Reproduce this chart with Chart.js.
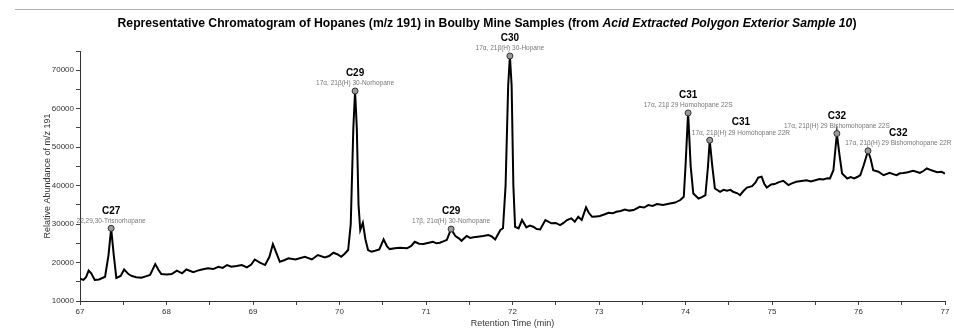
<!DOCTYPE html>
<html>
<head>
<meta charset="utf-8">
<script src="https://cdn.jsdelivr.net/npm/chart.js@4.4.1/dist/chart.umd.min.js"></script>
<style>
html,body{margin:0;padding:0;background:#fff;}
#wrap{position:relative;width:954px;height:333px;}
</style>
</head>
<body>
<div id="wrap"><canvas id="c" width="954" height="333"></canvas></div>
<script>
// Retention time (min)
const times = [
67.00,67.04,67.07,67.10,67.13,67.17,67.22,67.29,67.33,67.36,67.39,67.42,67.47,67.51,67.56,67.60,67.65,67.71,67.76,67.81,
67.87,67.91,67.94,68.00,68.06,68.12,68.18,68.23,68.31,68.36,68.41,68.48,68.54,68.60,68.65,68.70,68.75,68.81,68.87,68.93,
68.98,69.02,69.08,69.14,69.19,69.23,69.27,69.31,69.36,69.41,69.49,69.55,69.60,69.68,69.75,69.83,69.88,69.93,69.98,70.02,
70.06,70.10,70.13,70.16,70.18,70.20,70.22,70.24,70.27,70.30,70.33,70.37,70.41,70.46,70.51,70.55,70.58,70.64,70.70,70.78,
70.83,70.87,70.92,70.97,71.02,71.08,71.12,71.16,71.20,71.24,71.29,71.34,71.38,71.41,71.47,71.51,71.55,71.60,71.66,71.72,
71.76,71.80,71.86,71.89,71.92,71.95,71.97,71.99,72.01,72.03,72.07,72.11,72.16,72.20,72.24,72.28,72.32,72.38,72.45,72.50,
72.55,72.59,72.63,72.68,72.72,72.76,72.80,72.85,72.88,72.92,72.97,73.01,73.06,73.11,73.16,73.20,73.25,73.30,73.35,73.40,
73.47,73.52,73.57,73.62,73.67,73.74,73.82,73.88,73.94,73.98,74.00,74.03,74.06,74.09,74.15,74.19,74.23,74.26,74.28,74.31,
74.34,74.40,74.44,74.48,74.52,74.55,74.60,74.63,74.67,74.71,74.77,74.81,74.84,74.88,74.91,74.94,74.99,75.03,75.08,75.13,
75.19,75.23,75.28,75.34,75.40,75.45,75.50,75.55,75.59,75.64,75.67,75.71,75.75,75.78,75.81,75.87,75.91,75.95,75.99,76.02,
76.06,76.11,76.14,76.17,76.23,76.29,76.36,76.40,76.44,76.48,76.52,76.57,76.63,76.67,76.71,76.75,76.79,76.83,76.86,76.91,
76.96,77.00
];
// Relative abundance of m/z 191
const abundance = [
15800,15500,16200,17900,17200,15450,15600,16300,22000,28900,22000,16000,16500,18200,17000,16500,16200,16050,16400,16750,
19600,18000,17000,16900,17000,17900,17200,18200,17500,17900,18200,18500,18300,18900,18600,19350,18900,19100,19350,18750,
19500,20800,20000,19350,21500,24800,22500,20200,20600,21100,20800,21200,21500,20800,21950,21350,21700,22550,22100,21500,
22300,23250,30000,55000,64600,55000,35000,28450,30350,26000,23250,22800,23050,23400,26000,24200,23500,23700,23850,23700,
24300,25400,24900,24800,25100,25400,25000,25150,25500,25850,28700,26900,26300,25650,26900,26400,26550,26700,26900,27150,
26800,26000,28450,28900,40000,66000,73700,66000,40000,29300,28900,31050,29150,29600,29300,28700,28600,31050,30200,30300,
29750,30300,31050,31500,30600,31900,31050,34350,33000,31900,32000,32100,32500,32950,32800,33200,33400,33800,33500,33650,
34500,34300,34950,34700,35200,34950,35350,35600,36250,37100,45000,58900,45000,37950,36650,37000,37500,45000,51800,45000,
39250,38400,38900,38650,38900,38400,38000,37500,38600,39500,39850,40800,42100,42300,40500,39500,40300,40400,40900,41250,
40150,40600,41000,41200,41400,41100,41400,41700,41600,41900,41850,44000,53550,48000,43150,41850,42200,41850,42300,42700,
45300,49050,47000,44000,43600,42700,43300,43000,42700,43200,43300,43500,43850,43600,43300,43800,44450,44100,43850,43500,
43600,43150
];
// Identified peaks
const peakTimes  = [67.36, 70.18, 71.29, 71.97, 74.03, 74.28, 75.75, 76.11];
const peakValues = [28900, 64600, 28700, 73700, 58900, 51800, 53550, 49050];
const peakLabels = ['C27','C29','C29','C30','C31','C31','C32','C32'];
const peakNames  = [
  '22,29,30-Trisnorhopane',
  '17α, 21β(H) 30-Norhopane',
  '17β, 21α(H) 30-Norhopane',
  '17α, 21β(H) 30-Hopane',
  '17α, 21β 29 Homohopane 22S',
  '17α, 21β(H) 29 Homohopane 22R',
  '17α, 21β(H) 29 Bishomohopane 22S',
  '17α, 21β(H) 29 Bishomohopane 22R'
];
// Label anchor times (where text is centered)
const labelTimes = [67.36, 70.18, 71.29, 71.97, 74.03, 74.64, 75.75, 76.46];

const titlePlain = 'Representative Chromatogram of Hopanes (m/z 191) in Boulby Mine Samples (from ';
const titleItalic = 'Acid Extracted Polygon Exterior Sample 10';
const titleEnd = ')';
const xTitle = 'Retention Time (min)';
const yTitle = 'Relative Abundance of m/z 191';

const FONT = '"Liberation Sans", Arial, sans-serif';

const overlay = {
  id: 'overlay',
  afterDraw(chart) {
    const ctx = chart.ctx;
    const xs = chart.scales.x, ys = chart.scales.y;
    ctx.save();
    // top rule
    ctx.strokeStyle = '#b0b0b0';
    ctx.lineWidth = 1;
    ctx.beginPath(); ctx.moveTo(15, 9.5); ctx.lineTo(954, 9.5); ctx.stroke();
    // title (mixed bold / bold italic)
    const fs = 12.2;
    const fB = 'bold ' + fs + 'px ' + FONT;
    const fI = 'italic bold ' + fs + 'px ' + FONT;
    ctx.font = fB; const w1 = ctx.measureText(titlePlain).width;
    ctx.font = fI; const w2 = ctx.measureText(titleItalic).width;
    ctx.font = fB; const w3 = ctx.measureText(titleEnd).width;
    let tx = 487 - (w1 + w2 + w3) / 2;
    const ty = 24;
    ctx.fillStyle = '#000';
    ctx.textBaseline = 'middle';
    ctx.textAlign = 'left';
    ctx.font = fB; ctx.fillText(titlePlain, tx, ty); tx += w1;
    ctx.font = fI; ctx.fillText(titleItalic, tx, ty); tx += w2;
    ctx.font = fB; ctx.fillText(titleEnd, tx, ty);
    // axis titles
    ctx.fillStyle = '#333';
    ctx.font = '9px ' + FONT;
    ctx.textAlign = 'center';
    ctx.fillText(xTitle, (xs.left + xs.right) / 2, 324);
    ctx.save();
    ctx.translate(48, (ys.top + ys.bottom) / 2);
    ctx.rotate(-Math.PI / 2);
    ctx.fillText(yTitle, 0, 0);
    ctx.restore();
    // peak annotations
    for (let i = 0; i < peakTimes.length; i++) {
      const px = xs.getPixelForValue(labelTimes[i]);
      const py = ys.getPixelForValue(peakValues[i]);
      ctx.fillStyle = '#000';
      ctx.font = 'bold 10px ' + FONT;
      ctx.fillText(peakLabels[i], px, py - 17.5);
      ctx.fillStyle = '#777';
      ctx.font = '6.5px ' + FONT;
      ctx.fillText(peakNames[i], px, py - 7.5);
    }
    ctx.restore();
  }
};

new Chart(document.getElementById('c'), {
  type: 'line',
  data: {
    datasets: [
      {
        label: 'm/z 191',
        data: times.map((t, i) => ({x: t, y: abundance[i]})),
        borderColor: '#000',
        borderWidth: 2,
        pointRadius: 0,
        tension: 0,
        fill: false,
        order: 2
      },
      {
        type: 'scatter',
        label: 'peaks',
        data: peakTimes.map((t, i) => ({x: t, y: peakValues[i]})),
        pointRadius: 3,
        pointBackgroundColor: '#9a9a9a',
        pointBorderColor: '#333',
        pointBorderWidth: 1,
        showLine: false,
        order: 1
      }
    ]
  },
  options: {
    responsive: false,
    animation: false,
    devicePixelRatio: 1,
    layout: { padding: { top: 51, right: 9, left: 0, bottom: 0 } },
    plugins: { legend: { display: false }, title: { display: false }, tooltip: { enabled: false } },
    scales: {
      x: {
        type: 'linear', min: 67, max: 77,
        afterFit(s) { s.height = 32; },
        border: { color: '#333', width: 1 },
        grid: { drawOnChartArea: false, drawTicks: true, tickLength: 4, color: '#444' },
        ticks: {
          stepSize: 0.5, autoSkip: false, maxRotation: 0, padding: 2,
          color: '#333', font: { family: FONT, size: 8 },
          callback: v => Number.isInteger(v) ? String(v) : ''
        }
      },
      y: {
        min: 10000, max: 75000,
        afterFit(s) { s.width = 80; },
        border: { color: '#333', width: 1 },
        grid: { drawOnChartArea: false, drawTicks: true, tickLength: 4, color: '#444' },
        ticks: {
          stepSize: 5000, autoSkip: false, padding: 2,
          color: '#333', font: { family: FONT, size: 8 },
          callback: v => (v % 10000 === 0 && v <= 70000) ? String(v) : ''
        }
      }
    }
  },
  plugins: [overlay]
});
</script>
</body>
</html>
